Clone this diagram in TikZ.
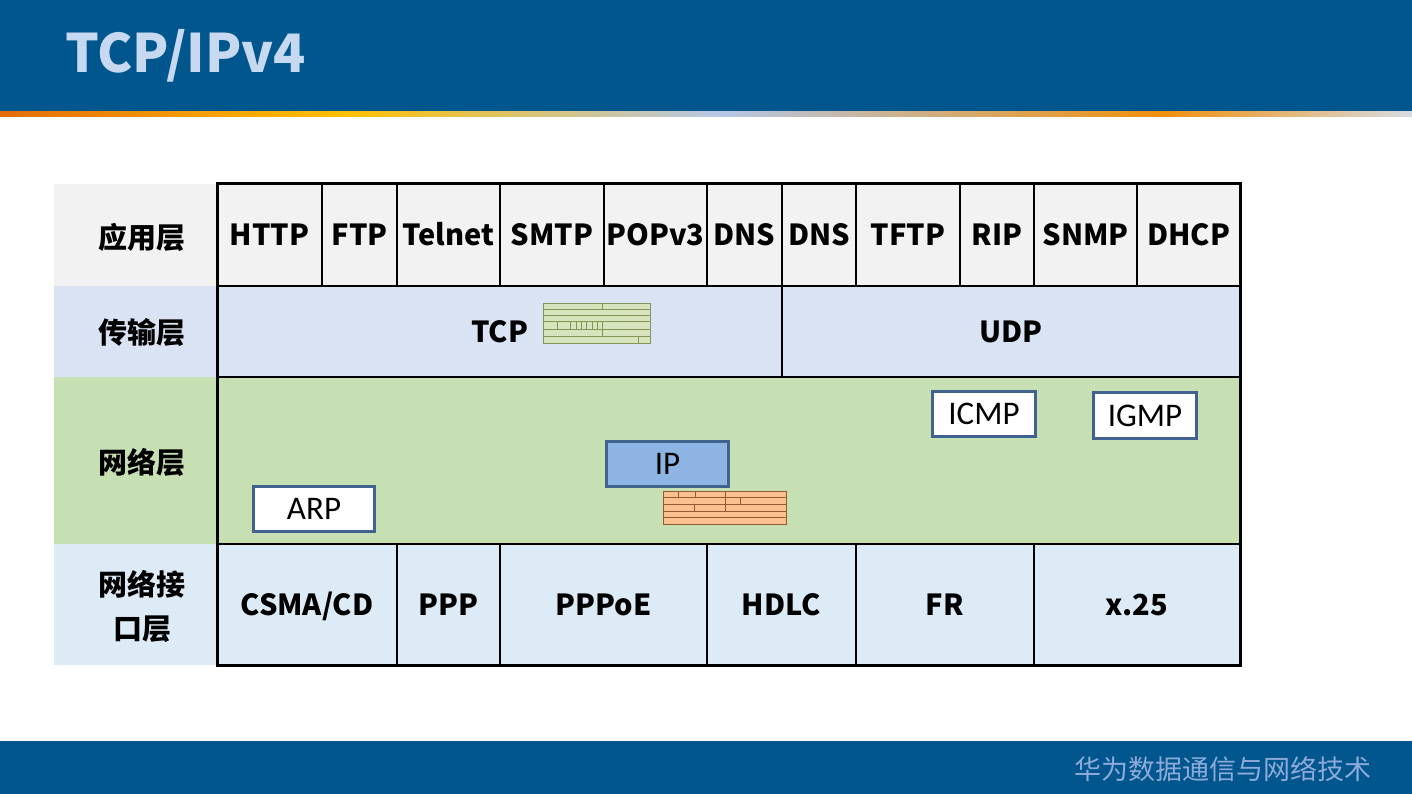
\documentclass[tikz,border=0pt]{standalone}
\usepackage{fontspec}
\setmainfont{Noto Sans CJK SC}
\newfontfamily\carl{Carlito}
\definecolor{barblue}{RGB}{0,86,141}
\definecolor{titleblue}{RGB}{198,217,241}
\definecolor{footblue}{RGB}{142,170,219}
\definecolor{gOr}{RGB}{228,108,10}
\definecolor{gYe}{RGB}{255,192,0}
\definecolor{gLb}{RGB}{180,199,231}
\definecolor{gOrB}{RGB}{240,144,10}
\definecolor{gGr}{RGB}{214,220,228}
\definecolor{appg}{RGB}{242,242,242}
\definecolor{trang}{RGB}{218,227,243}
\definecolor{netg}{RGB}{198,224,180}
\definecolor{ifg}{RGB}{221,235,247}
\definecolor{boxblue}{RGB}{65,98,143}
\definecolor{ipfill}{RGB}{142,180,227}
\definecolor{hdrgfill}{RGB}{216,228,188}
\definecolor{hdrgline}{RGB}{130,150,90}
\definecolor{hdrofill}{RGB}{250,192,144}
\definecolor{hdroline}{RGB}{150,90,50}
\tikzset{
  cell/.style={draw=black, line width=1.6pt, inner sep=0pt, outer sep=0pt,
    font=\bfseries\fontsize{29}{29}\selectfont, text height=21.5pt, text depth=0pt},
  lay/.style={inner sep=0pt, font=\bfseries\fontsize{29}{44}\selectfont, align=center},
  pbox/.style={draw=boxblue, line width=3pt, fill=white, inner sep=0pt,
    font=\carl\fontsize{33}{33}\selectfont, text height=21.3pt, text depth=0pt},
  hgl/.style={draw=hdrgline, line width=0.6pt},
  hol/.style={draw=hdroline, line width=0.6pt}
}
\begin{document}
\begin{tikzpicture}[x=1pt,y=-1pt]
\useasboundingbox (0,0) rectangle (1412,794);
\fill[white] (0,0) rectangle (1412,794);
% header and footer bars
\fill[barblue] (0,0) rectangle (1412,112);
\shade[left color=gOr, right color=gYe] (0,111.5) rectangle (342.5,117);
\shade[left color=gYe, right color=gLb] (342,111.5) rectangle (720.5,117);
\shade[left color=gLb, right color=gOrB] (720,111.5) rectangle (1162.5,117);
\shade[left color=gOrB, right color=gGr] (1162,111.5) rectangle (1412,117);
\fill[barblue] (0,741) rectangle (1412,794);
\node[anchor=base west, inner sep=0pt, text=titleblue, font=\bfseries\fontsize{53}{60}\selectfont] (title) at (65,73) {TCP/IPv4};
\node[anchor=east, inner sep=0pt, text=footblue, font=\fontsize{27}{30}\selectfont] (foot) at (1372,769) {华为数据通信与网络技术};
% layer label column
\fill[appg] (54,184) rectangle (217,286);
\fill[trang] (54,286) rectangle (217,377);
\fill[netg] (54,377) rectangle (217,544);
\fill[ifg] (54,544) rectangle (217,665);
\node[lay] (l1) at (142,237) {应用层};
\node[lay] (l2) at (142,333) {传输层};
\node[lay] (l3) at (142,462) {网络层};
\node[lay] (l4) at (142,606) {网络接\\口层};
% application row
\node[cell, fill=appg, minimum width=105, minimum height=102] (a1) at (269.5,235) {HTTP};
\node[cell, fill=appg, minimum width=75, minimum height=102] (a2) at (359.5,235) {FTP};
\node[cell, fill=appg, minimum width=103, minimum height=102] (a3) at (448.5,235) {Telnet};
\node[cell, fill=appg, minimum width=104, minimum height=102] (a4) at (552,235) {SMTP};
\node[cell, fill=appg, minimum width=103, minimum height=102] (a5) at (655.5,235) {POPv3};
\node[cell, fill=appg, minimum width=75, minimum height=102] (a6) at (744.5,235) {DNS};
\node[cell, fill=appg, minimum width=74, minimum height=102] (a7) at (819,235) {DNS};
\node[cell, fill=appg, minimum width=104, minimum height=102] (a8) at (908,235) {TFTP};
\node[cell, fill=appg, minimum width=74, minimum height=102] (a9) at (997,235) {RIP};
\node[cell, fill=appg, minimum width=103, minimum height=102] (a10) at (1085.5,235) {SNMP};
\node[cell, fill=appg, minimum width=103, minimum height=102] (a11) at (1188.5,235) {DHCP};
% transport row
\node[cell, fill=trang, minimum width=565, minimum height=91] (tcp) at (499.5,331.5) {TCP};
\node[cell, fill=trang, minimum width=458, minimum height=91] (udp) at (1011,331.5) {UDP};
% network row
\node[cell, fill=netg, minimum width=1023, minimum height=167] (net) at (728.5,460.5) {};
% interface row
\node[cell, fill=ifg, minimum width=180, minimum height=121] (i1) at (307,604.5) {CSMA/CD};
\node[cell, fill=ifg, minimum width=103, minimum height=121] (i2) at (448.5,604.5) {PPP};
\node[cell, fill=ifg, minimum width=207, minimum height=121] (i3) at (603.5,604.5) {PPPoE};
\node[cell, fill=ifg, minimum width=149, minimum height=121] (i4) at (781.5,604.5) {HDLC};
\node[cell, fill=ifg, minimum width=178, minimum height=121] (i5) at (945,604.5) {FR};
\node[cell, fill=ifg, minimum width=206, minimum height=121] (i6) at (1137,604.5) {x.25};
% outer frame
\draw[line width=3pt] (217,184) rectangle (1240,665);
% TCP header thumbnail
\node[draw=hdrgline, fill=hdrgfill, line width=0.8pt, inner sep=0pt, minimum width=107, minimum height=40] (tcphdr) at (596.5,323.3) {};
\foreach \yy in {309.3,315.3,321.3,329.7,336.7} \draw[hgl] (543,\yy) -- (650,\yy);
\draw[hgl] (602.7,303.3) -- (602.7,309.3);
\draw[hgl] (557.3,321.3) -- (557.3,329.7);
\foreach \xx in {570.7,576,581.3,586.6,591.9,597.2,602.7} \draw[hgl] (\xx,321.3) -- (\xx,329.7);
\draw[hgl] (602.7,329.7) -- (602.7,336.7);
\draw[hgl] (638.3,336.7) -- (638.3,343.3);
% IP header thumbnail
\node[draw=hdroline, fill=hdrofill, line width=0.8pt, inner sep=0pt, minimum width=123, minimum height=33] (iphdr) at (724.5,507.5) {};
\foreach \yy in {497.7,504.3,511,517.7} \draw[hol] (663,\yy) -- (786,\yy);
\foreach \xx in {678,695,725} \draw[hol] (\xx,491) -- (\xx,497.7);
\foreach \xx in {725,740} \draw[hol] (\xx,497.7) -- (\xx,504.3);
\foreach \xx in {694,725} \draw[hol] (\xx,504.3) -- (\xx,511);
% protocol boxes
\node[pbox, minimum width=121, minimum height=45] (arp) at (314,508.5) {ARP};
\node[pbox, fill=ipfill, minimum width=122, minimum height=45] (ip) at (667.5,464) {IP};
\node[pbox, minimum width=103, minimum height=45] (icmp) at (984,414) {ICMP};
\node[pbox, minimum width=103, minimum height=46] (igmp) at (1145,415.5) {IGMP};
\end{tikzpicture}
\end{document}
